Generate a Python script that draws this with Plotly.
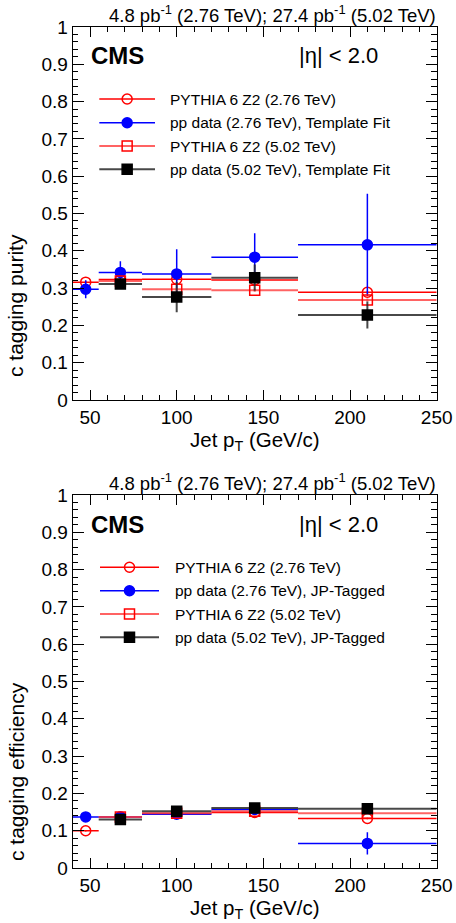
import plotly.graph_objects as go

# ---- binning (jet pT, GeV/c) ----
bin_edges = [40, 55, 80, 120, 170, 250]
pt_centers = [47.5, 67.5, 100, 145, 210]
pt_halfwidth = [7.5, 12.5, 20, 25, 40]

# ---- c-tagging purity ----
pur_pythia276 = [0.316, 0.323, 0.324, 0.322, 0.289]
pur_pythia276_err = [0.004, 0.004, 0.004, 0.004, 0.004]
pur_data276 = [0.297, 0.342, 0.338, 0.383, 0.416]
pur_data276_err = [0.024, 0.030, 0.066, 0.064, 0.137]
pur_pythia502 = [None, 0.319, 0.297, 0.294, 0.268]
pur_pythia502_err = [0, 0.004, 0.004, 0.004, 0.004]
pur_data502 = [None, 0.311, 0.276, 0.328, 0.228]
pur_data502_err = [0, 0.012, 0.041, 0.035, 0.036]

# ---- c-tagging efficiency ----
eff_pythia276 = [0.100, 0.137, 0.146, 0.149, 0.133]
eff_pythia276_err = [0.002, 0.002, 0.002, 0.002, 0.002]
eff_data276 = [0.137, 0.137, 0.144, 0.157, 0.066]
eff_data276_err = [0.004, 0.004, 0.004, 0.005, 0.030]
eff_pythia502 = [None, 0.137, 0.147, 0.152, 0.147]
eff_pythia502_err = [0, 0.002, 0.002, 0.002, 0.002]
eff_data502 = [None, 0.130, 0.152, 0.161, 0.159]
eff_data502_err = [0, 0.004, 0.004, 0.004, 0.004]

legend_top = ["PYTHIA 6 Z2 (2.76 TeV)", "pp data (2.76 TeV), Template Fit",
              "PYTHIA 6 Z2 (5.02 TeV)", "pp data (5.02 TeV), Template Fit"]
legend_bot = ["PYTHIA 6 Z2 (2.76 TeV)", "pp data (2.76 TeV), JP-Tagged",
              "PYTHIA 6 Z2 (5.02 TeV)", "pp data (5.02 TeV), JP-Tagged"]

W, H = 456, 923
FONT = "Liberation Sans, Arial, Helvetica, sans-serif"

# series styles: (marker symbol, marker colour, bar colour, bar width)
styles = [
    ("circle-open", "#ff0000", "#ff0000", 1.5),
    ("circle", "#0000ff", "#0000ff", 1.5),
    ("square-open", "#ff0000", "rgba(255,60,60,0.8)", 2),
    ("square", "#000000", "rgba(40,40,40,0.85)", 2),
]


def px_x(p):
    return p / W


def px_y(p):
    return 1 - p / H


fig = go.Figure()


def add_series(xa, ya, vals, errs, style):
    sym, mcol, bcol, bw = style
    fig.add_trace(go.Scatter(
        x=pt_centers, y=vals, mode="markers", xaxis=xa, yaxis=ya,
        showlegend=False,
        marker=dict(symbol=sym, size=10, color=mcol,
                    line=dict(color=mcol, width=1.5)),
        error_x=dict(type="data", array=pt_halfwidth, symmetric=True,
                     color=bcol, thickness=bw, width=0),
        error_y=dict(type="data", array=errs, symmetric=True,
                     color=bcol, thickness=bw, width=0),
    ))


top_sets = [(pur_pythia276, pur_pythia276_err), (pur_data276, pur_data276_err),
            (pur_pythia502, pur_pythia502_err), (pur_data502, pur_data502_err)]
bot_sets = [(eff_pythia276, eff_pythia276_err), (eff_data276, eff_data276_err),
            (eff_pythia502, eff_pythia502_err), (eff_data502, eff_data502_err)]

for (v, e), st in zip(top_sets, styles):
    add_series("x", "y", v, e, st)
for (v, e), st in zip(bot_sets, styles):
    add_series("x2", "y2", v, e, st)

# ---- legends drawn on a full-page overlay axis (pixel units) ----
def add_legend(rows_y, x0, x1, xtext, labels):
    xc = (x0 + x1) / 2
    for yy, lab, st in zip(rows_y, labels, styles):
        sym, mcol, bcol, bw = st
        fig.add_trace(go.Scatter(
            x=[x0, x1], y=[yy, yy], mode="lines", xaxis="x3", yaxis="y3",
            showlegend=False, hoverinfo="skip",
            line=dict(color=bcol, width=bw)))
        fig.add_trace(go.Scatter(
            x=[xc], y=[yy], mode="markers", xaxis="x3", yaxis="y3",
            showlegend=False, hoverinfo="skip",
            marker=dict(symbol=sym, size=10, color=mcol,
                        line=dict(color=mcol, width=1.5))))
        fig.add_annotation(x=px_x(xtext), y=px_y(yy), xref="paper", yref="paper",
                           text=lab, showarrow=False, xanchor="left",
                           yanchor="middle", font=dict(size=15.5, family=FONT, color="black"))


add_legend([99, 122.7, 146, 169.3], 99.3, 155, 167.7, legend_top)
add_legend([567.3, 590.7, 614, 637.3], 100, 159, 172.7, legend_bot)

# ---- axes ----
xdom = [px_x(72.7), px_x(436.7)]
axis_common = dict(showline=True, linecolor="black", linewidth=1, mirror="allticks",
                   ticks="inside", tickcolor="black", tickwidth=1, showgrid=False,
                   zeroline=False, automargin=False,
                   tickfont=dict(size=19, family=FONT, color="black"))

xa = dict(axis_common, domain=xdom, range=[40, 250], tick0=50, dtick=50, ticklen=10,
          minor=dict(ticks="inside", dtick=10, ticklen=5, tickcolor="black", showgrid=False))
ya = dict(axis_common, range=[0, 1], tick0=0, dtick=0.1, ticklen=11,
          minor=dict(ticks="inside", dtick=0.02, ticklen=5.5, tickcolor="black", showgrid=False))

fig.update_layout(
    template="none",
    width=W, height=H, autosize=False,
    margin=dict(l=0, r=0, t=0, b=0, pad=0, autoexpand=False),
    paper_bgcolor="white", plot_bgcolor="rgba(0,0,0,0)",
    showlegend=False,
    font=dict(family=FONT, color="black"),
    xaxis=dict(xa, anchor="y"),
    yaxis=dict(ya, anchor="x", domain=[px_y(400), px_y(27)]),
    xaxis2=dict(xa, anchor="y2"),
    yaxis2=dict(ya, anchor="x2", domain=[px_y(868), px_y(495)]),
    xaxis3=dict(domain=[0, 1], range=[0, W], visible=False, anchor="y3",
                fixedrange=True, automargin=False),
    yaxis3=dict(domain=[0, 1], range=[H, 0], visible=False, anchor="x3",
                fixedrange=True, automargin=False),
)

# ---- text ----
def text(xp, yp, s, size, anchor="left", bold=False, angle=0):
    fig.add_annotation(x=px_x(xp), y=px_y(yp), xref="paper", yref="paper",
                       text=f"<b>{s}</b>" if bold else s, showarrow=False,
                       xanchor=anchor, yanchor="middle", textangle=angle,
                       font=dict(size=size, family=FONT, color="black"))


lumi = "4.8 pb<sup>-1</sup> (2.76 TeV); 27.4 pb<sup>-1</sup> (5.02 TeV)"
for off in (0, 468):
    text(438, 14 + off, lumi, 18.5, anchor="right")
    text(89, 56 + off, "CMS", 24, bold=True)
    text(297, 56 + off, "|η| < 2.0", 22)
    text(254.7, 441 + off, "Jet p<sub>T</sub> (GeV/c)", 20.5, anchor="center")

text(16, 306, "c tagging purity", 21, anchor="center", angle=-90)
text(16, 772, "c tagging efficiency", 21, anchor="center", angle=-90)

fig.write_html("out.html", config={"responsive": False})
